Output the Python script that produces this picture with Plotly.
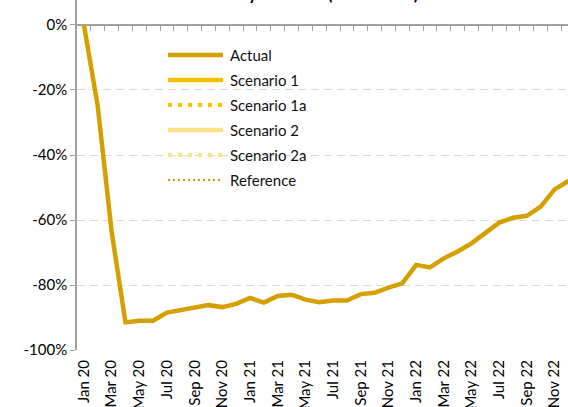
import plotly.graph_objects as go

# Monthly series, Jan 2020 - Dec 2022 (change vs. pre-crisis level)
months = [f"{m} {y}" for y in ("20", "21", "22")
          for m in ("Jan", "Feb", "Mar", "Apr", "May", "Jun",
                    "Jul", "Aug", "Sep", "Oct", "Nov", "Dec")]
actual = [
    0.000, -0.250, -0.635, -0.915, -0.910, -0.910,
    -0.885, -0.878, -0.868, -0.862, -0.868, -0.858,
    -0.840, -0.854, -0.834, -0.830, -0.845, -0.853,
    -0.848, -0.848, -0.828, -0.824, -0.808, -0.795,
    -0.738, -0.746, -0.718, -0.697, -0.672, -0.639,
    -0.608, -0.593, -0.587, -0.559, -0.506, -0.480,
]
y_ticks = [0, -0.2, -0.4, -0.6, -0.8, -1.0]
y_tick_labels = ["0%", "-20%", "-40%", "-60%", "-80%", "-100%"]

legend_names = ["Actual", "Scenario 1", "Scenario 1a", "Scenario 2", "Scenario 2a", "Reference"]
legend_colors = ["#D4A000", "#FFC000", "#FFC000", "#FFE285", "#FFE285", "#C99A00"]
legend_widths = [4.5, 4.5, 4, 4.5, 4, 2]
legend_dashes = ["solid", "solid", "4px,6px", "solid", "4px,6px", "2px,3px"]

FONT = "Lato"
W, H = 568, 407
ML, MR, MT, MB = 77, 0, 0, 57
PW, PH = W - ML - MR, H - MT - MB
Y_MIN, Y_MAX = -1.0, 0.0769
X_MIN, X_MAX = -0.5, 34.97

x = list(range(len(months)))

fig = go.Figure()
fig.add_trace(go.Scatter(
    x=x, y=actual, mode="lines", name="Actual",
    line=dict(color="#D4A000", width=4.5),
    showlegend=False, hoverinfo="skip",
))
# carrier trace for the category-boundary axis drawn at the 0% level
fig.add_trace(go.Scatter(x=[], y=[], xaxis="x2", yaxis="y", showlegend=False))


def px_x(p):
    return (p - ML) / PW


def px_y(p):
    return (MT + PH - p) / PH


# legend block: sample line + label per series
shapes = []
annotations = []
for i, (name, col, w, d) in enumerate(zip(legend_names, legend_colors, legend_widths, legend_dashes)):
    yy = 55 + i * 25
    shapes.append(dict(
        type="line", xref="paper", yref="paper",
        x0=px_x(168), x1=px_x(223), y0=px_y(yy), y1=px_y(yy),
        line=dict(color=col, width=w, dash=d), layer="above",
    ))
    annotations.append(dict(
        text=name, xref="paper", yref="paper",
        x=px_x(228), y=px_y(yy), xanchor="left", yanchor="middle",
        showarrow=False, font=dict(family=FONT, size=15, color="#111111"),
    ))

annotations.append(dict(
    text="<b>Monthly volumes (% vs. 2019)</b>", xref="paper", yref="paper",
    x=px_x(306), y=px_y(6), xanchor="center", yanchor="bottom",
    showarrow=False, font=dict(family=FONT, size=17, color="#000000"),
))

zero_pos = (0 - Y_MIN) / (Y_MAX - Y_MIN)

fig.update_layout(
    width=W, height=H,
    margin=dict(l=ML, r=MR, t=MT, b=MB, pad=0, autoexpand=False),
    paper_bgcolor="white", plot_bgcolor="white",
    font=dict(family=FONT, size=15, color="#000000"),
    showlegend=False,
    shapes=shapes,
    annotations=annotations,
    xaxis=dict(
        range=[X_MIN, X_MAX], automargin=False,
        tickmode="array", tickvals=x[::2], ticktext=months[::2],
        tickangle=-90, ticks="", showline=False, showgrid=False,
        zeroline=False, tickfont=dict(family=FONT, size=15),
        ticklabelstandoff=6,
    ),
    xaxis2=dict(
        overlaying="x", anchor="free", position=zero_pos, side="top",
        range=[X_MIN, X_MAX], automargin=False,
        tickmode="array", tickvals=[k - 0.5 for k in range(len(months) + 1)],
        ticks="inside", ticklen=5, tickwidth=1.3, tickcolor="#A0A0A0",
        showticklabels=False, showline=True, linecolor="#A0A0A0", linewidth=1.5,
        showgrid=False, zeroline=False, layer="below traces",
    ),
    yaxis=dict(
        range=[Y_MIN, Y_MAX], automargin=False,
        tickmode="array", tickvals=y_ticks, ticktext=y_tick_labels,
        ticks="outside", ticklen=5, tickwidth=1.3, tickcolor="#A0A0A0",
        showline=True, linecolor="#A0A0A0", linewidth=1.5,
        showgrid=True, gridcolor="#D9D9D9", gridwidth=1.3, griddash="8px,5px",
        zeroline=False, tickfont=dict(family=FONT, size=15),
        layer="below traces",
    ),
)

fig.write_html("out.html")
